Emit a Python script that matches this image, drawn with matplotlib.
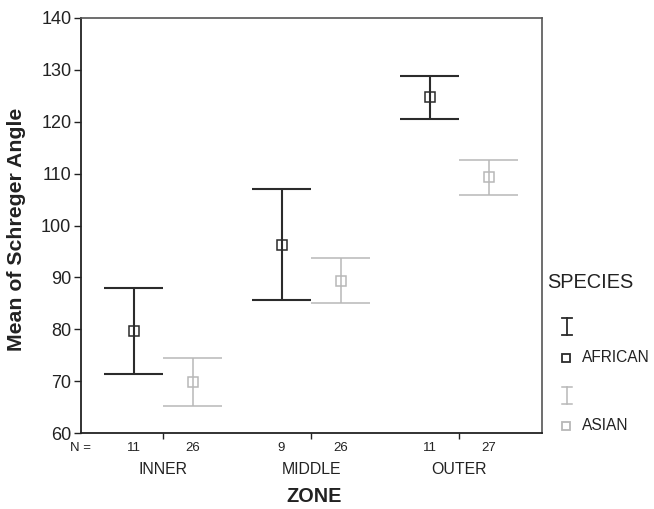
import matplotlib
matplotlib.use("Agg")
import matplotlib.pyplot as plt
from matplotlib.lines import Line2D
import numpy as np

plt.rcParams['font.family'] = ['Liberation Sans', 'DejaVu Sans']

zones = ["INNER", "MIDDLE", "OUTER"]
species = ["AFRICAN", "ASIAN"]
african_mean = [79.6, 96.3, 124.7]
african_upper = [87.9, 107.1, 128.9]
african_lower = [71.4, 85.7, 120.6]
asian_mean = [69.8, 89.3, 109.4]
asian_upper = [74.5, 93.8, 112.7]
asian_lower = [65.3, 85.1, 105.8]
african_n = [11, 9, 11]
asian_n = [26, 26, 27]

W, H = 654, 509
fig = plt.figure(figsize=(W / 100, H / 100), dpi=100)
ax = fig.add_axes([81 / W, 1 - 433 / H, (542 - 81) / W, (433 - 18) / H])

dark = "#2b2b2b"
light = "#b8b8b8"
txt = "#222222"
off = 0.2
xg = np.arange(len(zones))

series = [
    (african_mean, african_upper, african_lower, african_n, dark, -off, 1.5),
    (asian_mean, asian_upper, asian_lower, asian_n, light, off, 1.1),
]
for mean, up, lo, n, col, dx, lw in series:
    x = xg + dx
    ax.vlines(x, lo, up, color=col, lw=lw)
    ax.hlines(up, x - off, x + off, color=col, lw=lw)
    ax.hlines(lo, x - off, x + off, color=col, lw=lw)
    ax.plot(x, mean, ls='none', marker='s', ms=7, mfc='none', mec=col, mew=1.1)
    for xi, ni in zip(x, n):
        ax.annotate(str(ni), xy=(xi, 0), xycoords=('data', 'axes fraction'),
                    xytext=(0, -15), textcoords='offset pixels',
                    ha='center', va='center', fontsize=9.5, color=txt)

ax.set_xlim(-0.555, 2.56)
ax.set_ylim(60, 140)
ax.set_yticks(np.arange(60, 141, 10))
ax.set_xticks(xg)
ax.set_xticklabels([])
ax.tick_params(axis='y', labelsize=13, length=5, width=1, colors=txt, pad=2)
ax.tick_params(axis='x', length=4, width=1, direction='out', colors=txt)
for s in ['left', 'bottom']:
    ax.spines[s].set_color(txt)
    ax.spines[s].set_linewidth(1.3)
for s in ['top', 'right']:
    ax.spines[s].set_color('#555555')
    ax.spines[s].set_linewidth(1.2)

for xi, z in zip(xg, zones):
    ax.annotate(z, xy=(xi, 0), xycoords=('data', 'axes fraction'),
                xytext=(0, -37), textcoords='offset pixels',
                ha='center', va='center', fontsize=11.4, color=txt)

def fx(px):
    return px / W

def fy(py):
    return 1 - py / H

fig.text(fx(80), fy(448), "N =", ha='center', va='center', fontsize=9.5, color=txt)
fig.text(fx(314), fy(496), "ZONE", ha='center', va='center', fontsize=14.3,
         fontweight='bold', color=txt)
fig.text(fx(17), fy(229), "Mean of Schreger Angle", ha='center', va='center',
         rotation=90, fontsize=15.3, fontweight='bold', color=txt)

# legend
fig.text(fx(547), fy(283), "SPECIES", ha='left', va='center', fontsize=14.4, color=txt)
leg_items = [(species[0], dark, 326, 358, 357, 1.3), (species[1], light, 395, 426, 426, 1.1)]
for name, col, yi, ys, yt, lw in leg_items:
    cx = 566.5
    h = 8.5
    c = 5
    fig.add_artist(Line2D([fx(cx), fx(cx)], [fy(yi - h), fy(yi + h)], color=col, lw=lw))
    fig.add_artist(Line2D([fx(cx - c), fx(cx + c)], [fy(yi - h), fy(yi - h)], color=col, lw=lw))
    fig.add_artist(Line2D([fx(cx - c), fx(cx + c)], [fy(yi + h), fy(yi + h)], color=col, lw=lw))
    fig.add_artist(Line2D([fx(cx - 0.5)], [fy(ys)], ls='none', marker='s', ms=6,
                          mfc='none', mec=col, mew=1.3))
    fig.text(fx(582), fy(yt), name, ha='left', va='center', fontsize=11.2, color=txt)

fig.savefig("out.png", dpi=100)
